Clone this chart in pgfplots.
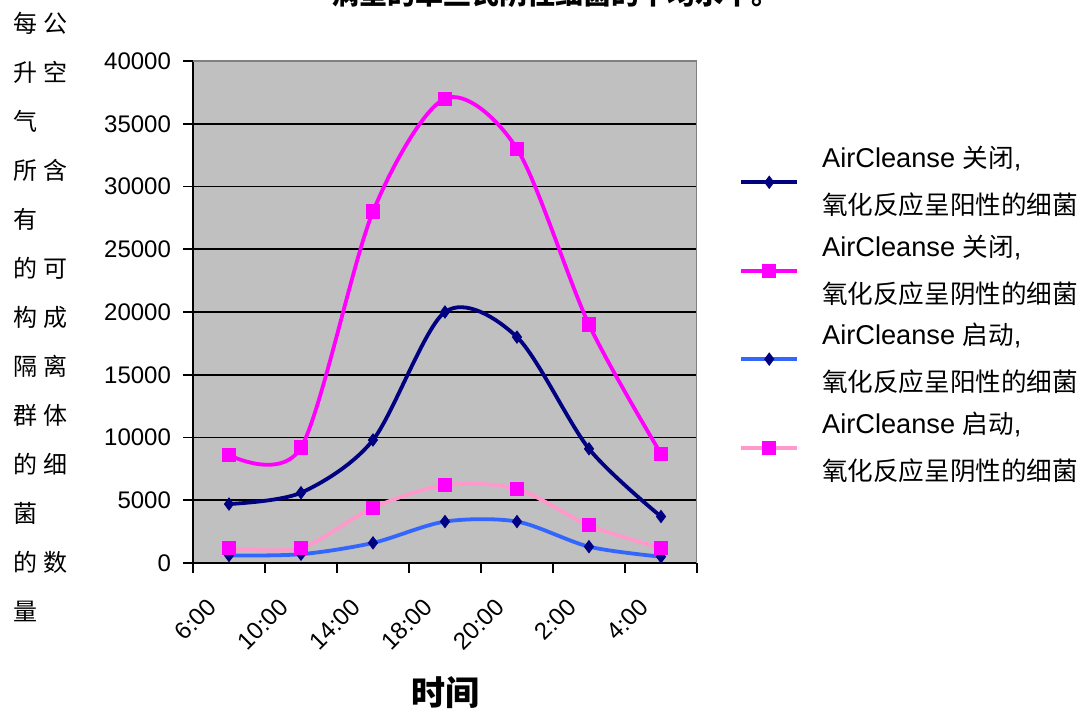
\documentclass[border=0pt]{standalone}
\usepackage{fontspec}
\setmainfont{Liberation Sans}
\newfontfamily\cjk{Noto Sans CJK SC}
\usepackage{pgfplots}
\pgfplotsset{compat=1.18}

\definecolor{plotbg}{HTML}{C0C0C0}
\definecolor{navy}{HTML}{000080}
\definecolor{mag}{HTML}{FF00FF}
\definecolor{lblue}{HTML}{3366FF}
\definecolor{lpink}{HTML}{FF99CC}
\definecolor{frame}{HTML}{808080}

\newcommand{\cj}[1]{{\cjk\fontsize{12.8}{23.5}\selectfont #1}}

\begin{document}
\begin{tikzpicture}
\begin{axis}[
  at={(96.5pt,76pt)}, anchor=south west,
  scale only axis, width=252pt, height=251pt,
  xmin=-0.5, xmax=6.5, ymin=0, ymax=40000,
  axis lines=left, axis line style={-, line width=0.8pt},
  axis background/.style={fill=plotbg},
  xtick={-0.5,0.5,...,6.5}, xticklabels={},
  extra x ticks={0,1,2,3,4,5,6},
  extra x tick labels={6:00,10:00,14:00,18:00,20:00,2:00,4:00},
  extra x tick style={tick style={draw=none},
    tick label style={xshift=-11.5pt, yshift=-7pt, rotate=45, anchor=north east}},
  ytick={0,5000,...,40000}, scaled y ticks=false,
  ymajorgrids, major grid style={black, line width=0.8pt},
  tick align=outside, major tick length=5pt,
  tick style={black, line width=0.8pt},
  yticklabel style={xshift=-2.5pt},
  tick label style={font=\fontsize{12}{14}\selectfont},
  /pgf/number format/1000 sep={},
  /pgf/number format/assume math mode=true,
  legend style={at={(1.0833,0.494)}, anchor=west, draw=none, fill=none,
    inner sep=0pt, row sep=8.5pt, column sep=11.5pt,
    cells={anchor=west, align=left}, nodes={inner sep=0pt},
    font=\fontsize{13.6}{23.5}\selectfont},
  legend image code/.code={\draw[mark repeat=2, mark phase=2, #1]
    plot coordinates {(0pt,0pt) (14pt,0pt) (28pt,0pt)};},
]
\addplot[navy, line width=1.9pt, smooth, mark=diamond*, mark size=3pt,
  mark options={solid, draw=navy, fill=navy, line width=0.5pt}]
  coordinates {(0,4700) (1,5600) (2,9800) (3,20000) (4,18000) (5,9100) (6,3700)};
\addlegendentry{AirCleanse \cj{关闭},\\\cj{氧化反应呈阳性的细菌}}
\addplot[mag, line width=1.9pt, smooth, mark=square*, mark size=3.3pt,
  mark options={solid, draw=mag, fill=mag, line width=0.5pt}]
  coordinates {(0,8600) (1,9200) (2,28000) (3,37000) (4,33000) (5,19000) (6,8700)};
\addlegendentry{AirCleanse \cj{关闭},\\\cj{氧化反应呈阴性的细菌}}
\addplot[lblue, line width=1.9pt, smooth, mark=diamond*, mark size=3pt,
  mark options={solid, draw=navy, fill=navy, line width=0.5pt}]
  coordinates {(0,600) (1,700) (2,1600) (3,3300) (4,3300) (5,1300) (6,500)};
\addlegendentry{AirCleanse \cj{启动},\\\cj{氧化反应呈阳性的细菌}}
\addplot[lpink, line width=1.9pt, smooth, mark=square*, mark size=3.3pt,
  mark options={solid, draw=mag, fill=mag, line width=0.5pt}]
  coordinates {(0,1200) (1,1200) (2,4400) (3,6200) (4,5900) (5,3000) (6,1200)};
\addlegendentry{AirCleanse \cj{启动},\\\cj{氧化反应呈阴性的细菌}}
\draw[frame, line width=0.8pt] (rel axis cs:0,1) -- (rel axis cs:1,1) -- (rel axis cs:1,0);
\end{axis}
\node[anchor=north west, align=left, inner sep=0pt,
  font=\cjk\fontsize{12}{24.5}\selectfont] at (6.5pt,351.5pt)
  {每\hspace{3pt}公\\升\hspace{3pt}空\\气\\所\hspace{3pt}含\\有\\的\hspace{3pt}可\\构\hspace{3pt}成\\隔\hspace{3pt}离\\群\hspace{3pt}体\\的\hspace{3pt}细\\菌\\的\hspace{3pt}数\\量};
\node[font=\cjk\bfseries\fontsize{17}{19}\selectfont] at (222.5pt,11pt) {时间};
\node[anchor=base, font=\cjk\bfseries\fontsize{14}{16}\selectfont] at (277.5pt,355pt)
  {病室的革兰氏阴性细菌的平均水平。};
\pgfresetboundingbox
\useasboundingbox (0,0) rectangle (541.5pt,357.5pt);
\end{tikzpicture}
\end{document}
